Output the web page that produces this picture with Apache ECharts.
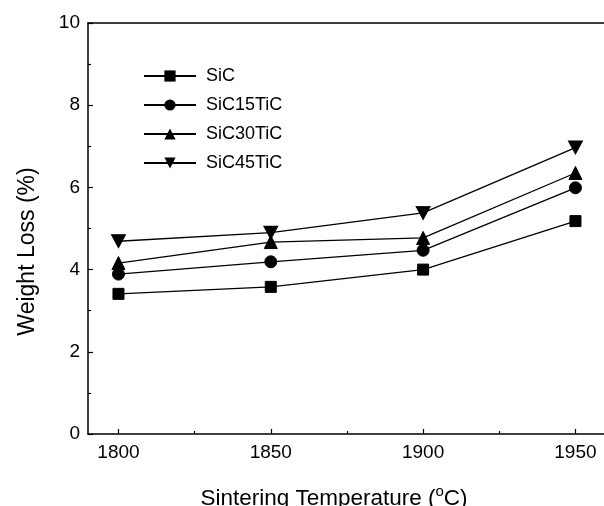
<!DOCTYPE html>
<html>
<head>
<meta charset="utf-8">
<script src="https://cdn.jsdelivr.net/npm/echarts@6/dist/echarts.min.js"></script>
<style>html,body{margin:0;padding:0;background:#fff;overflow:hidden;}#c{width:604px;height:506px;}</style>
</head>
<body>
<div id="c"></div>
<script>
const temps = [1800, 1850, 1900, 1950];
const sic = [3.41, 3.58, 4.0, 5.18];
const sic15 = [3.89, 4.19, 4.47, 5.99];
const sic30 = [4.16, 4.67, 4.77, 6.35];
const sic45 = [4.69, 4.9, 5.38, 6.97];
const seriesNames = ['SiC', 'SiC15TiC', 'SiC30TiC', 'SiC45TiC'];
const xTicks = [1800, 1850, 1900, 1950];
const xMinorTicks = [1825, 1875, 1925];

const font = 'Liberation Sans, Arial, sans-serif';
const pair = arr => temps.map((t, i) => [t, arr[i]]);
const symbols = ['rect', 'circle', 'triangle', 'path://M0,0 L10,0 L5,9 Z'];
const sizes = [11, 12, 13, [14, 13]];
const datasets = [sic, sic15, sic30, sic45];

const chart = echarts.init(document.getElementById('c'));
chart.setOption({
  animation: false,
  backgroundColor: '#fff',
  grid: { left: 88, top: 23, width: 524, height: 411, outerBoundsMode: 'none', containLabel: false },
  legend: {
    orient: 'vertical', left: 143, top: 67, padding: 0, itemWidth: 52, itemHeight: 14, itemGap: 11,
    textStyle: { fontFamily: font, fontSize: 18, lineHeight: 18, color: '#000', padding: [0, 0, 0, 5] },
    data: seriesNames
  },
  xAxis: [{
    type: 'value', min: 1790, max: 1962,
    name: '{a|Sintering Temperature (}{s|o}{a|C)}', nameLocation: 'middle', nameGap: 50,
    nameTextStyle: { padding: [0, 32, 0, 0], rich: { a: { fontFamily: font, fontSize: 22.5, color: '#000', lineHeight: 26, verticalAlign: 'bottom' }, s: { fontFamily: font, fontSize: 15, color: '#000', verticalAlign: 'top', lineHeight: 26, padding: [0, 0, 8, 0] } } },
    axisLine: { show: true, lineStyle: { color: '#000', width: 1.5 } },
    axisTick: { show: true, inside: true, length: 5, customValues: xTicks, lineStyle: { color: '#000', width: 1.2 } },
    axisLabel: { customValues: xTicks, formatter: v => String(v), fontFamily: font, fontSize: 19, color: '#000', margin: 9 },
    splitLine: { show: false }
  }, {
    type: 'value', min: 1790, max: 1962, position: 'bottom',
    axisLine: { show: false },
    axisTick: { show: true, inside: true, length: 3, customValues: xMinorTicks, lineStyle: { color: '#000', width: 1.2 } },
    axisLabel: { show: false },
    splitLine: { show: false }
  }, {
    type: 'value', min: 1790, max: 1962, position: 'top',
    axisLine: { show: true, lineStyle: { color: '#000', width: 1.5 } },
    axisTick: { show: false },
    axisLabel: { show: false },
    splitLine: { show: false }
  }],
  yAxis: {
    type: 'value', min: 0, max: 10, interval: 2,
    name: 'Weight Loss (%)', nameLocation: 'middle', nameGap: 49,
    nameTextStyle: { fontFamily: font, fontSize: 23, color: '#000', padding: [0, 46, 0, 0] },
    axisLine: { show: true, lineStyle: { color: '#000', width: 1.5 } },
    axisTick: { show: true, inside: true, length: 5, lineStyle: { color: '#000', width: 1.2 } },
    minorTick: { show: true, splitNumber: 2, length: 3, lineStyle: { color: '#000', width: 1.2 } },
    axisLabel: { fontFamily: font, fontSize: 19, color: '#000', margin: 8 },
    splitLine: { show: false }
  },
  series: datasets.map((d, i) => ({
    name: seriesNames[i], type: 'line', data: pair(d), xAxisIndex: 0,
    symbol: symbols[i], symbolSize: sizes[i], showSymbol: true,
    lineStyle: { color: '#000', width: 1.3 },
    itemStyle: { color: '#000', borderColor: '#000' }
  }))
});
</script>
</body>
</html>
